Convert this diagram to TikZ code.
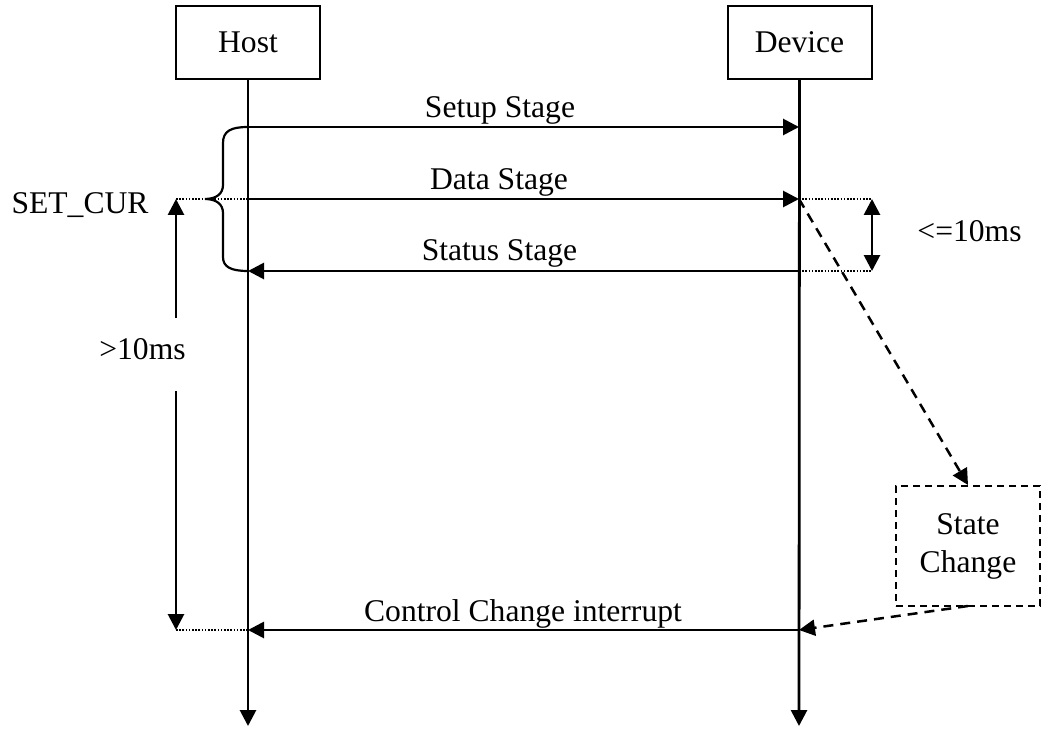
\documentclass[tikz,border=0pt]{standalone}
\usepackage{fontspec}
\setmainfont{Liberation Serif}
\usetikzlibrary{arrows.meta}
\begin{document}
\begin{tikzpicture}[x=1pt,y=-1pt,
  every node/.style={font=\fontsize{31.6}{38}\selectfont},
  tip/.style={-{Triangle[length=16pt,width=16pt]}},
  actor/.style={draw,line width=2pt,minimum width=144pt,minimum height=73pt,inner sep=0pt},
  life/.style={line width=2.8pt,tip},
  msg/.style={line width=2.8pt,tip},
  guide/.style={line width=1.3pt,dash pattern=on 1.6pt off 1.6pt},
  dashedarrow/.style={line width=2.5pt,dash pattern=on 10pt off 7pt,tip},
  lbl/.style={inner sep=0pt}]
\useasboundingbox (0,0) rectangle (1044,730);
% actors
\node[actor] (host) at (248,42.5) {Host};
\node[actor] (device) at (799.5,42.5) {Device};
% lifeline points
\coordinate (hs) at (248,127);
\coordinate (hd) at (248,199);
\coordinate (hst) at (248,271);
\coordinate (hc) at (248,630);
\coordinate (hend) at (248,726);
\coordinate (ds) at (799,127);
\coordinate (dd) at (799,199);
\coordinate (dst) at (799,271);
\coordinate (dc) at (799,630);
\coordinate (dend) at (799,726);
% lifelines
\draw[life] (host.south) -- (hend);
\draw[life] (device.south) -- (dend);
% messages
\draw[msg] (hs) -- (ds);
\draw[msg] (hd) -- (dd);
\draw[msg] (dst) -- (hst);
\draw[msg] (dc) -- (hc);
\node[lbl,anchor=base] (l1) at (500,118) {Setup Stage};
\node[lbl,anchor=base] (l2) at (499,190) {Data Stage};
\node[lbl,anchor=base] (l3) at (499.5,261) {Status Stage};
\node[lbl,anchor=base] (l4) at (523,621) {Control Change interrupt};
% brace
\draw[line width=2.2pt] (hs) .. controls (231,127) and (223,131) .. (223,143)
  -- (223,185) .. controls (223,194) and (216,199) .. (205,199)
  .. controls (216,199) and (223,204) .. (223,213)
  -- (223,257) .. controls (223,267) and (231,271) .. (hst);
\node[lbl] (setcur) at (80,205) {SET\_CUR};
% left timing
\coordinate (lt) at (176,199);
\coordinate (lb) at (176,630);
\draw[guide] (lt) -- (hd);
\draw[guide] (lb) -- (hc);
\node[lbl] (gt) at (142.5,349) {>10ms};
\coordinate (ltg) at (176,318);
\coordinate (lbg) at (176,391);
\draw[msg] (ltg) -- (lt);
\draw[msg] (lbg) -- (lb);
% right timing
\coordinate (rt) at (872,199);
\coordinate (rb) at (872,271);
\draw[guide] (dd) -- (rt);
\draw[guide] (dst) -- (rb);
\draw[line width=2.8pt,{Triangle[length=16pt,width=16pt]}-{Triangle[length=16pt,width=16pt]}] (rt) -- (rb);
\node[lbl] (le) at (969.5,231) {<=10ms};
% state change
\node[draw,line width=2pt,dash pattern=on 7pt off 5pt,minimum width=144pt,minimum height=120pt,align=center,inner sep=0pt] (sc) at (968,546) {State\\Change};
\draw[dashedarrow] (dd) -- (sc.north);
\coordinate (scb) at (968,606);
\draw[dashedarrow] (scb) -- (dc);
\end{tikzpicture}
\end{document}
